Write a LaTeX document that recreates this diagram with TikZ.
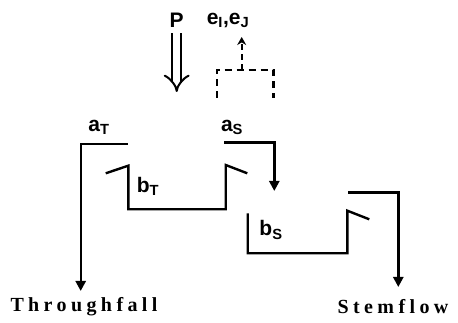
\documentclass[tikz,border=0pt]{standalone}
\usepackage{amsmath,amssymb}
\usepackage{fontspec}
\setmainfont{Liberation Serif}
\setsansfont{Liberation Sans}
\usetikzlibrary{positioning,arrows.meta,calc}

\tikzset{
    flow/.style={line width=2.4pt, line join=miter},
    flowarrow/.style={flow, -{Triangle[width=10pt,length=10pt]}},
    lbl/.style={font=\sffamily\bfseries\fontsize{21}{24}\selectfont, inner sep=0pt},
    outlbl/.style={font=\bfseries\fontsize{20}{22}\selectfont\addfontfeature{LetterSpace=22}, inner sep=0pt}
}

\begin{document}
\begin{tikzpicture}[x=1pt, y=-1pt]
    \useasboundingbox (0,0) rectangle (458,323);

    % Rainfall input and evaporation
    \node[lbl] (rain) at (176.7,20) {P};
    \node[lbl] (evap) at (228,20) {e\textsubscript{I},e\textsubscript{J}};
    \draw[line width=2pt, double distance=7pt, -{Implies[length=8pt]}] (rain.south) ++(0,6) -- (176.7,92);
    \coordinate (split) at (241.7,70);
    \draw[flow, dash pattern=on 7pt off 5pt] (216.7,98) -- (216.7,70) -- (273.3,70) -- (273.3,98);
    \draw[flow, dash pattern=on 6pt off 4pt, -{Stealth[width=9pt,length=8pt]}] (split) -- (241.7,37);

    % Free throughfall and canopy drip
    \node[lbl] (aT) at (99,127) {a\textsubscript{T}};
    \coordinate (thru) at (80.7,291);
    \draw[flowarrow] (127.7,144.3) -- (80.7,144.3) -- (thru);

    % Canopy store
    \node[lbl] (bT) at (148,186) {b\textsubscript{T}};
    \draw[flow] (105.7,173.3) -- (128.3,165.7) -- (128.3,209.3) -- (225.7,209.3) -- (225.7,165) -- (247.3,173.3);

    % Diversion to trunk
    \node[lbl] (aS) at (232,127) {a\textsubscript{S}};
    \draw[flowarrow] (224,142.7) -- (274.3,142.7) -- (274.3,191);

    % Trunk store
    \node[lbl] (bS) at (271,230) {b\textsubscript{S}};
    \draw[flow] (247.7,213.3) -- (247.7,253.3) -- (347.3,253.3) -- (347.3,210.7) -- (369.3,219.3);

    % Stemflow output
    \coordinate (stem) at (398.3,287);
    \draw[flowarrow] (348.3,192.7) -- (398.3,192.7) -- (stem);

    % Outputs
    \node[outlbl] (thrulbl) at (84,307) {Throughfall};
    \node[outlbl] (stemlbl) at (393,307) {Stemflow};
\end{tikzpicture}
\end{document}
